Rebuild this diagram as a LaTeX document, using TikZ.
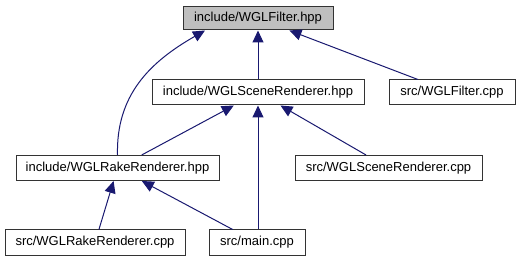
\documentclass[tikz,border=0pt]{standalone}
\usepackage{fontspec}
\setmainfont{Liberation Sans}
\usetikzlibrary{arrows.meta}
\definecolor{edgeblue}{HTML}{191970}
\tikzset{box/.style={rectangle,draw=black!80,line width=1pt,fill=white,align=center,inner sep=0pt,minimum height=25pt,font=\fontsize{13}{15}\selectfont},hdr/.style={box,fill=black!25},line/.style={edgeblue,line width=1pt,-{Triangle[length=12pt,width=11pt]}}}

\begin{document}
\begin{tikzpicture}[x=1pt,y=-1pt]
\useasboundingbox (0,0) rectangle (521,261);
\node[hdr, minimum width=150pt, minimum height=23pt] (filter) at (258,18.5) {include/WGLFilter.hpp};
\node[box, minimum width=212pt] (scenehpp) at (258,92.5) {include/WGLSceneRenderer.hpp};
\node[box, minimum width=126pt] (filtercpp) at (452,92.5) {src/WGLFilter.cpp};
\node[box, minimum width=203pt] (rakehpp) at (117.5,168) {include/WGLRakeRenderer.hpp};
\node[box, minimum width=187pt] (scenecpp) at (388.5,168) {src/WGLSceneRenderer.cpp};
\node[box, minimum width=180pt] (rakecpp) at (95,242.5) {src/WGLRakeRenderer.cpp};
\node[box, minimum width=96pt] (maincpp) at (257,242.5) {src/main.cpp};
% includes point back at the header they pull in
\draw[line] (rakehpp.north) .. controls (116,95) and (150,62) .. ([xshift=-53pt]filter.south);
\draw[line] (scenehpp) -- (filter);
\draw[line] (filtercpp) -- (filter);
\draw[line] (rakehpp) -- (scenehpp);
\draw[line] ([xshift=1pt]maincpp.north) -- ([xshift=1pt]maincpp.north |- scenehpp.south);
\draw[line] (scenecpp) -- (scenehpp);
\draw[line] (rakecpp) -- (rakehpp);
\draw[line] (maincpp) -- (rakehpp);
\end{tikzpicture}
\end{document}
